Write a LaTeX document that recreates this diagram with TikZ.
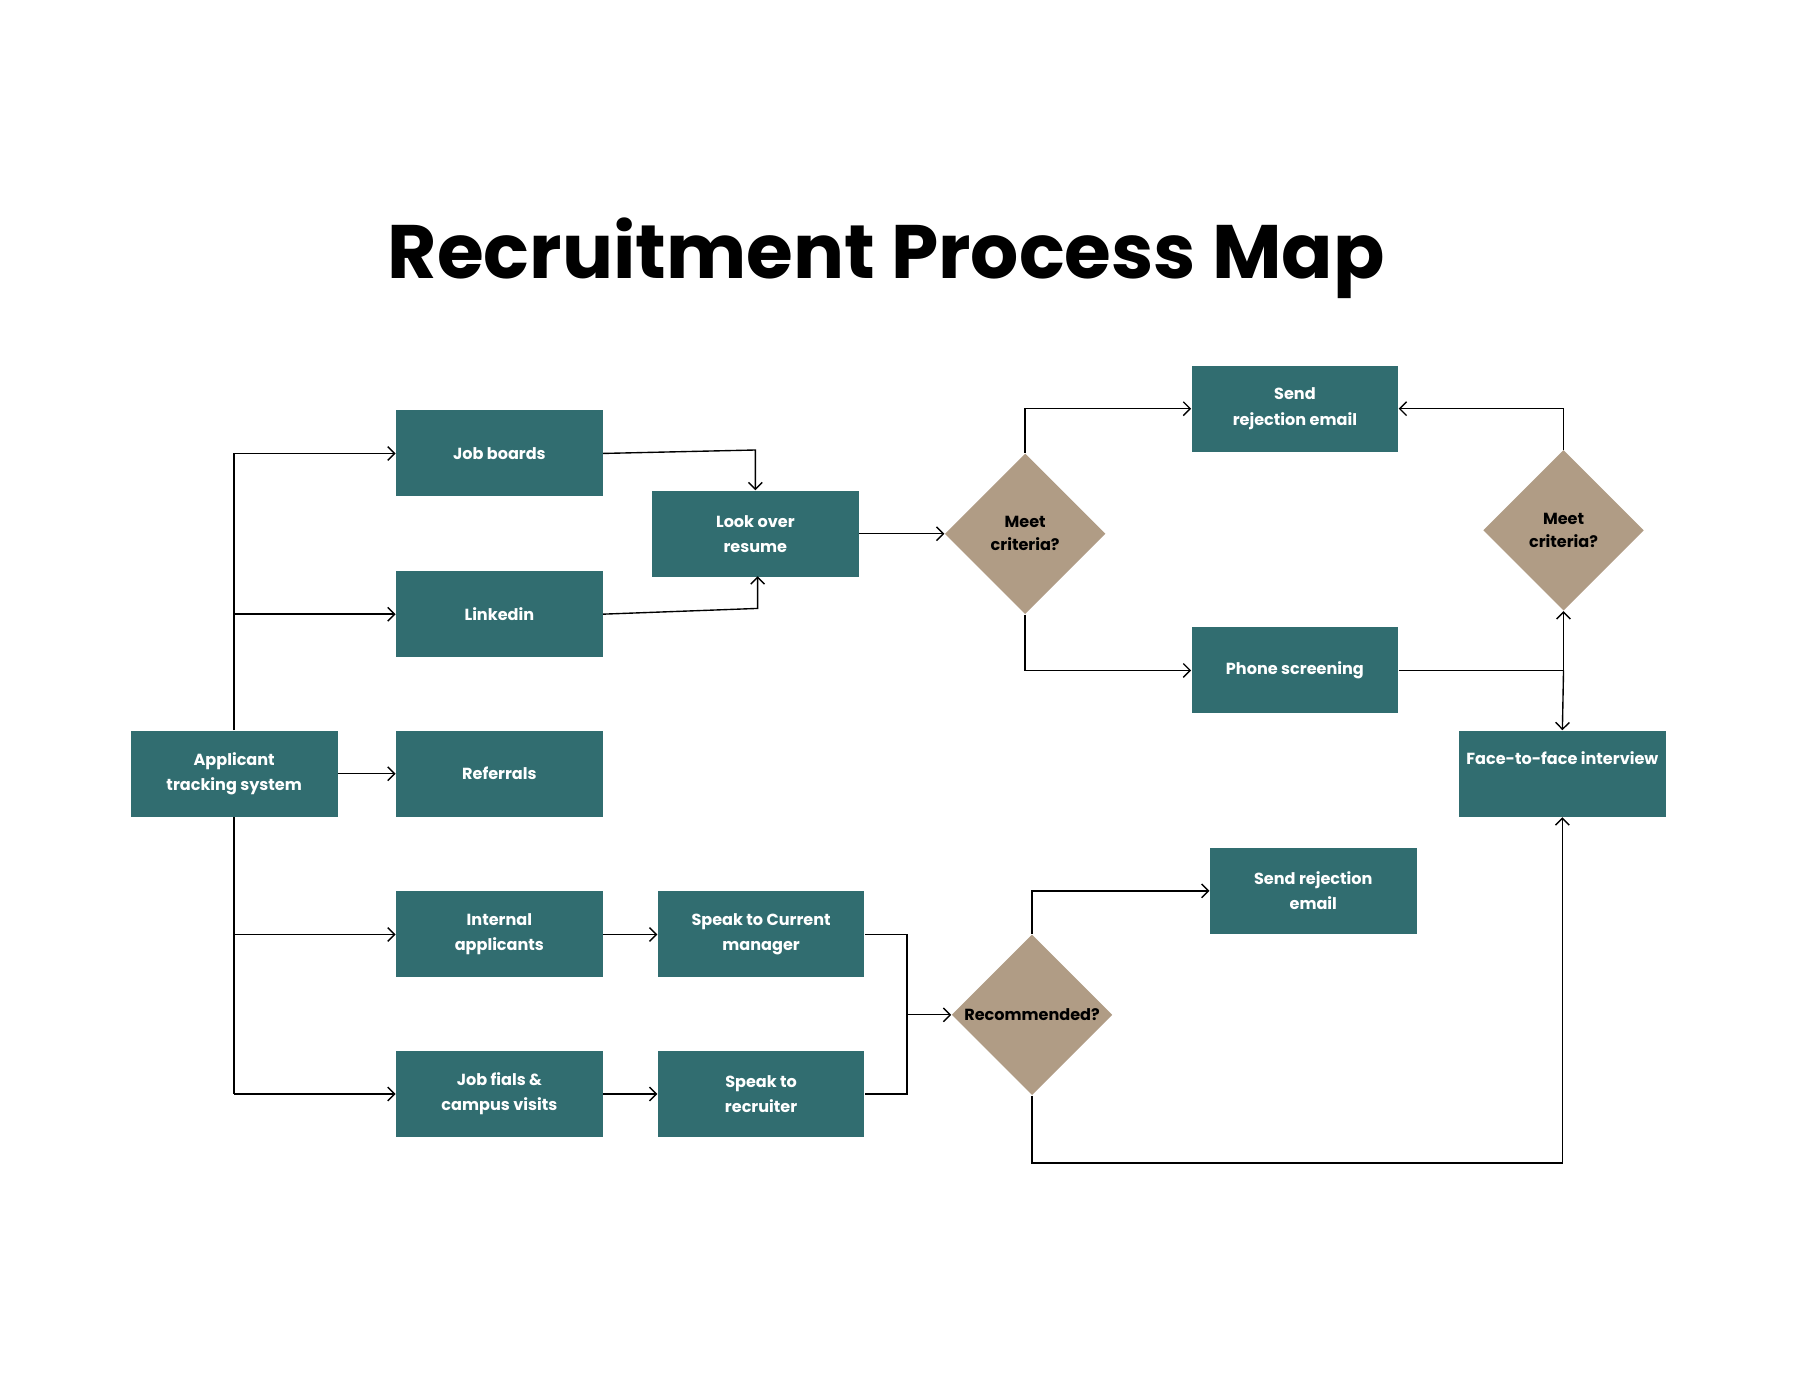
\documentclass[tikz,border=0pt]{standalone}
\usepackage{fontspec}
\setmainfont{Poppins}
\usetikzlibrary{arrows.meta,shapes.geometric}
\definecolor{teal}{HTML}{316D70}
\definecolor{tan}{HTML}{B09C85}
\tikzset{
  box/.style={fill=teal,minimum width=90pt,minimum height=37.5pt,inner sep=0pt,text=white,font=\bfseries\fontsize{7}{11}\selectfont,align=center},
  dia/.style={diamond,fill=tan,minimum width=70pt,minimum height=70pt,aspect=1,inner sep=0pt,font=\bfseries\fontsize{7}{10}\selectfont,align=center},
  conn/.style={line width=0.6pt,-{Straight Barb[length=3pt,width=6pt]}},
  ln/.style={line width=0.6pt}
}
\begin{document}
\begin{tikzpicture}[x=0.5pt,y=-0.5pt]
\useasboundingbox (0,0) rectangle (1568,1209);
\node (title) at (772,225) {\fontsize{33}{40}\selectfont\bfseries Recruitment Process Map};
\node[box] (jb) at (435,395) {Job boards};
\node[box] (li) at (435,535) {Linkedin};
\node[box] (ref) at (435,674) {Referrals};
\node[box] (int) at (435,814) {Internal\\applicants};
\node[box] (jf) at (435,953) {Job fials \&\\campus visits};
\node[box] (ats) at (204,674) {Applicant\\tracking system};
\node[box] (lo) at (658,465) {Look over\\resume};
\node[box] (scm) at (663,814) {Speak to Current\\manager};
\node[box] (sr) at (663,953) {Speak to\\recruiter};
\node[box] (rej1) at (1128,356) {Send\\rejection email};
\node[box] (ps) at (1128,584) {Phone screening};
\node[box,text height=0pt] (ff) at (1361,674) {};
\node[font=\bfseries\fontsize{7}{11}\selectfont,text=white] (fft) at (1361,660) {Face-to-face interview};
\node[box] (rej2) at (1144,776) {Send rejection\\email};
\node[dia] (d1) at (893,465) {Meet\\criteria?};
\node[dia] (d2) at (1362,462) {Meet\\criteria?};
\node[dia] (d3) at (899,884) {Recommended?};
\coordinate (b1) at (204,395);
\coordinate (b2) at (204,535);
\coordinate (b3) at (204,814);
\coordinate (b4) at (204,953);
\draw[ln] (ats.north) -- (b1);
\draw[ln] (ats.south) -- (b4);
\draw[conn] (b1) -- (jb.west);
\draw[conn] (b2) -- (li.west);
\draw[conn] (ats.east) -- (ref.west);
\draw[conn] (b3) -- (int.west);
\draw[conn] (b4) -- (jf.west);
\draw[conn] (jb.east) -- (658,392) -- (lo.north);
\draw[conn] (li.east) -- (660,530) -- (660,502);
\draw[conn] (lo.east) -- (d1.west);
\draw[conn] (d1.north) |- (rej1.west);
\draw[conn] (d1.south) |- (ps.west);
\coordinate (j) at (1362,584);
\draw[ln] (ps.east) -- (j);
\draw[conn] (j) -- (d2.south);
\draw[conn] (j) -- (ff.north);
\draw[conn] (d2.north) |- (rej1.east);
\draw[conn] (int.east) -- (scm.west);
\draw[conn] (jf.east) -- (sr.west);
\draw[ln] (scm.east) -- (790,814) -- (790,953) -- (sr.east);
\draw[conn] (790,884) -- (d3.west);
\draw[conn] (d3.north) |- (rej2.west);
\draw[conn] (d3.south) -- (899,1013) -| (ff.south);
\end{tikzpicture}
\end{document}
